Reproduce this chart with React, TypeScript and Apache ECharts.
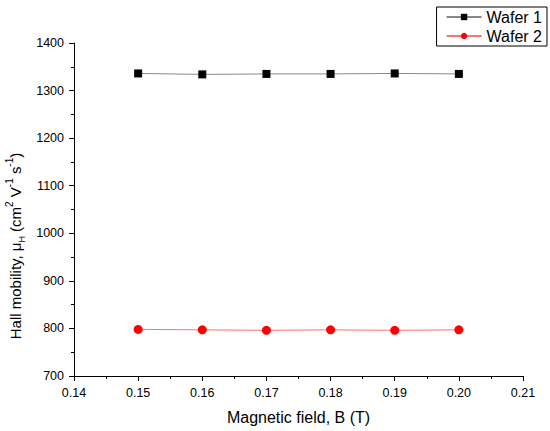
import React, { useEffect, useRef } from "react";
import * as echarts from "echarts";

const fieldB = [0.15, 0.16, 0.17, 0.18, 0.19, 0.2];
const wafer1 = [1336, 1334, 1335, 1335, 1336, 1335];
const wafer2 = [798, 797, 796, 797, 796, 797];
const seriesNames = ["Wafer 1", "Wafer 2"];
const xTitle = "Magnetic field, B (T)";
const yTitle = "{n|Hall mobility, μ}{sub|H}{n| (cm}{sup|2}{n| V}{sup|-1}{n| s}{sup|-1}{n|)}";

export default function App() {
  const ref = useRef<HTMLDivElement>(null);
  useEffect(() => {
    if (!ref.current) return;
    const chart = echarts.init(ref.current, null, { renderer: "svg" });
    const font = "Liberation Sans, Arial, sans-serif";
    const tick = { show: true, inside: false, length: 5, lineStyle: { color: "#000", width: 1 } };
    const minor = { show: true, splitNumber: 2, length: 3, lineStyle: { color: "#000", width: 1 } };
    chart.setOption({
      animation: false,
      backgroundColor: "#fff",
      textStyle: { fontFamily: font },
      grid: { left: 74, right: 27, top: 43, bottom: 55, containLabel: false },
      legend: {
        orient: "vertical",
        right: 3,
        top: 7,
        data: seriesNames,
        itemWidth: 35,
        itemHeight: 8,
        itemGap: 3,
        padding: [2, 5, 2, 9],
        borderColor: "#000",
        borderWidth: 1,
        borderRadius: 0,
        textStyle: { fontFamily: font, fontSize: 16, color: "#000", lineHeight: 16 },
      },
      graphic: [
        {
          type: "text",
          x: 15,
          y: 246,
          rotation: Math.PI / 2,
          silent: true,
          style: {
            text: yTitle,
            align: "center",
            verticalAlign: "middle",
            fontFamily: font,
            fontSize: 15,
            fill: "#000",
            rich: {
              n: { fontFamily: font, fontSize: 15, fill: "#000", lineHeight: 22, verticalAlign: "middle" },
              sub: { fontFamily: font, fontSize: 9, fill: "#000", lineHeight: 20, verticalAlign: "bottom" },
              sup: { fontFamily: font, fontSize: 10, fill: "#000", lineHeight: 22, verticalAlign: "top" },
            },
          },
        },
      ],
      xAxis: {
        type: "value",
        min: 0.14,
        max: 0.21,
        interval: 0.01,
        axisLine: { show: true, onZero: false, lineStyle: { color: "#000", width: 1 } },
        axisTick: tick,
        minorTick: minor,
        splitLine: { show: false },
        axisLabel: {
          fontFamily: font,
          fontSize: 12.5,
          color: "#000",
          margin: 10,
          formatter: (v: number) => v.toFixed(2),
        },
        name: xTitle,
        nameLocation: "middle",
        nameGap: 33,
        nameTextStyle: { fontFamily: font, fontSize: 16, color: "#000" },
      },
      yAxis: {
        type: "value",
        min: 700,
        max: 1400,
        interval: 100,
        axisLine: { show: true, onZero: false, lineStyle: { color: "#000", width: 1 } },
        axisTick: tick,
        minorTick: minor,
        splitLine: { show: false },
        axisLabel: {
          fontFamily: font,
          fontSize: 12.5,
          color: "#000",
          margin: 10,
          formatter: (v: number) => String(v),
        },
      },
      series: [
        {
          name: seriesNames[0],
          type: "line",
          data: fieldB.map((x, i) => [x, wafer1[i]]),
          symbol: "rect",
          symbolSize: 8,
          itemStyle: { color: "#000" },
          lineStyle: { color: "#888", width: 1 },
        },
        {
          name: seriesNames[1],
          type: "line",
          data: fieldB.map((x, i) => [x, wafer2[i]]),
          symbol: "circle",
          symbolSize: 9,
          itemStyle: { color: "#ff0000" },
          lineStyle: { color: "#ff7070", width: 1 },
        },
      ],
    });
    return () => chart.dispose();
  }, []);
  return (
    <div
      ref={ref}
      style={{ position: "fixed", left: 0, top: 0, width: 550, height: 431 }}
    />
  );
}
